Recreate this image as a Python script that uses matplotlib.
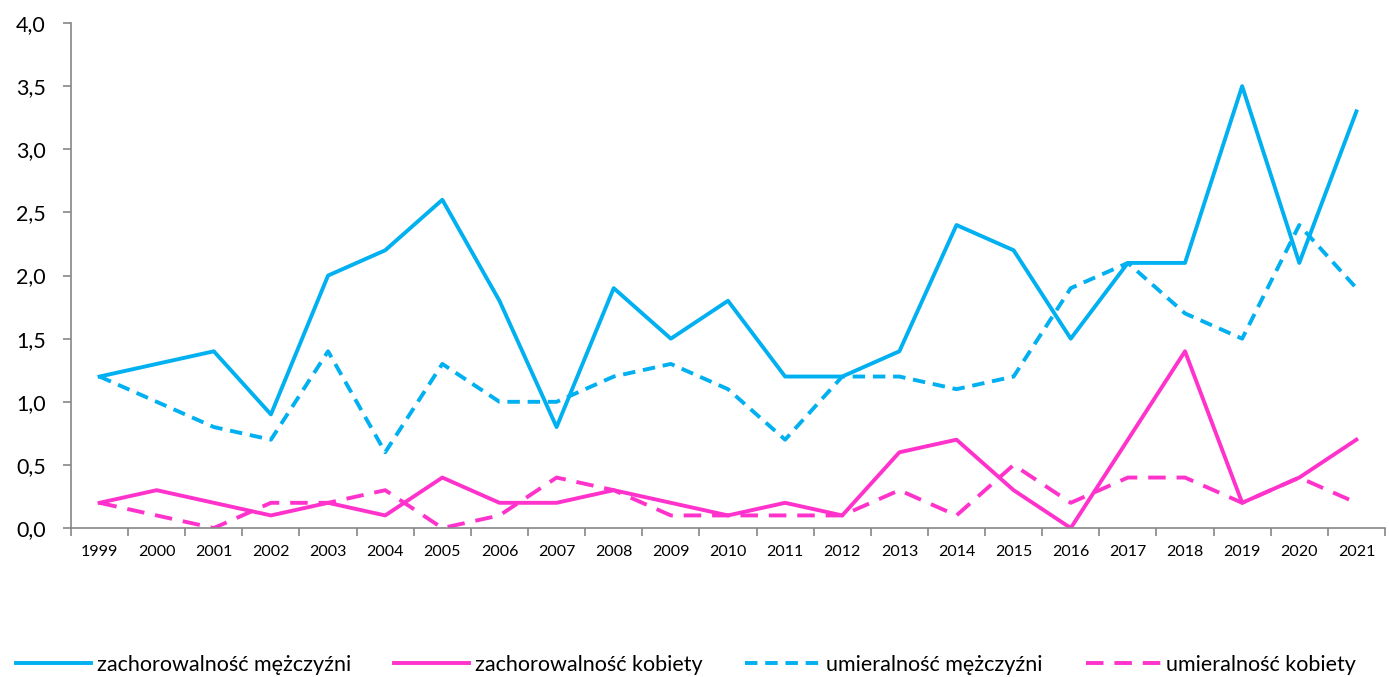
import numpy as np
import matplotlib.pyplot as plt
from matplotlib.ticker import FixedLocator

plt.rcParams['font.family'] = ['Lato', 'DejaVu Sans']

years = list(range(1999, 2022))
zach_m = [1.2, 1.3, 1.4, 0.9, 2.0, 2.2, 2.6, 1.8, 0.8, 1.9, 1.5, 1.8, 1.2, 1.2, 1.4, 2.4, 2.2, 1.5, 2.1, 2.1, 3.5, 2.1, 3.3]
zach_k = [0.2, 0.3, 0.2, 0.1, 0.2, 0.1, 0.4, 0.2, 0.2, 0.3, 0.2, 0.1, 0.2, 0.1, 0.6, 0.7, 0.3, 0.0, 0.7, 1.4, 0.2, 0.4, 0.7]
umier_m = [1.2, 1.0, 0.8, 0.7, 1.4, 0.6, 1.3, 1.0, 1.0, 1.2, 1.3, 1.1, 0.7, 1.2, 1.2, 1.1, 1.2, 1.9, 2.1, 1.7, 1.5, 2.4, 1.9]
umier_k = [0.2, 0.1, 0.0, 0.2, 0.2, 0.3, 0.0, 0.1, 0.4, 0.3, 0.1, 0.1, 0.1, 0.1, 0.3, 0.1, 0.5, 0.2, 0.4, 0.4, 0.2, 0.4, 0.2]
labels = ['zachorowalność mężczyźni', 'zachorowalność kobiety', 'umieralność mężczyźni', 'umieralność kobiety']

blue = '#00B0F0'
pink = '#FF33CC'
lw = 2.8

fig = plt.figure(figsize=(13.89, 6.77), dpi=100)
ax = fig.add_axes([0.0511, 0.22, 0.946, 0.746])

ax.plot(years, zach_m, color=blue, lw=lw, label=labels[0])
ax.plot(years, zach_k, color=pink, lw=lw, label=labels[1])
ax.plot(years, umier_m, color=blue, lw=lw, linestyle=(0, (3.2, 2.0)), label=labels[2])
ax.plot(years, umier_k, color=pink, lw=lw, linestyle=(0, (4.5, 2.8)), label=labels[3])

ax.set_xlim(1998.5, 2021.5)
ax.set_ylim(0, 4.0)
ax.set_yticks(np.arange(0, 4.01, 0.5))
ax.set_yticklabels([('%.1f' % v).replace('.', ',') for v in np.arange(0, 4.01, 0.5)], fontsize=15.5)
ax.set_xticks(years)
ax.set_xticklabels([str(y) for y in years], fontsize=11.5)
ax.xaxis.set_minor_locator(FixedLocator(np.arange(1998.5, 2022, 1.0)))
ax.tick_params(axis='x', which='major', length=0, pad=12)
ax.tick_params(axis='x', which='minor', length=6, color='#868686', width=1.2)
ax.tick_params(axis='y', length=6, color='#868686', width=1.2, pad=12)

for s in ['top', 'right']:
    ax.spines[s].set_visible(False)
for s in ['left', 'bottom']:
    ax.spines[s].set_color('#868686')
    ax.spines[s].set_linewidth(1.2)

fig.legend(loc='center', bbox_to_anchor=(0.494, 0.018), ncol=4, frameon=False,
           fontsize=15.5, handlelength=3.5, handletextpad=0.25, columnspacing=2.0)

fig.savefig('out.png', dpi=100)
